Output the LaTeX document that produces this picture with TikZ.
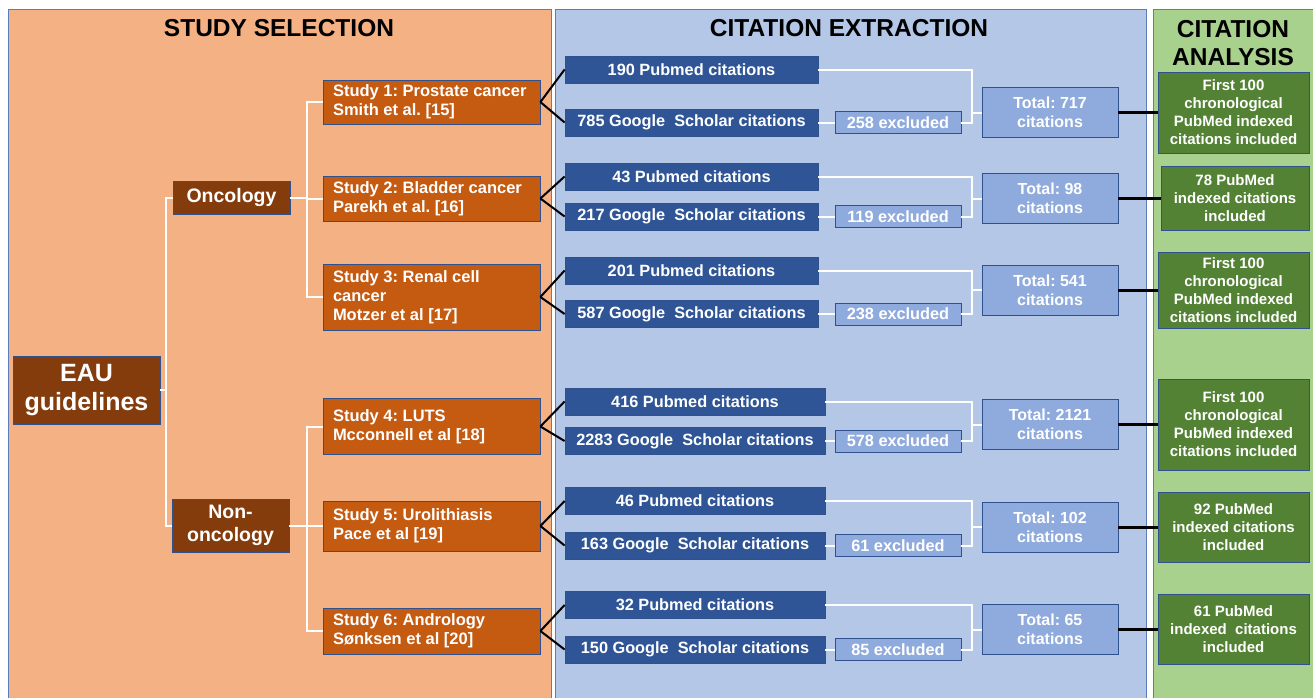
\documentclass[tikz,border=0pt]{standalone}
\usepackage{fontspec}
\setmainfont{Liberation Sans}
\usetikzlibrary{positioning}
\definecolor{OrangePanel}{RGB}{244,177,131}
\definecolor{BluePanel}{RGB}{180,199,231}
\definecolor{GreenPanel}{RGB}{169,209,142}
\definecolor{TopicBrown}{RGB}{132,60,12}
\definecolor{StudyOrange}{RGB}{197,90,17}
\definecolor{PubBlue}{RGB}{47,85,151}
\definecolor{PaleBlue}{RGB}{143,170,220}
\definecolor{ResultGreen}{RGB}{84,130,53}
\definecolor{BoxLine}{RGB}{47,82,143}
\definecolor{PanelLine}{RGB}{91,125,190}
\newcommand{\fsize}[2]{\fontsize{#1}{#2}\selectfont\bfseries\frenchspacing}
\newcommand{\joinrow}[1]{%
  \coordinate (j#1) at ([xshift=-10]tot#1.west);
  \draw[stem] (s#1.east)--(pm#1.west);
  \draw[stem] (s#1.east)--(gs#1.west);
  \draw[twig] (gs#1.east)--(ex#1.west);
  \draw[twig] (pm#1.east) -| (j#1) |- (ex#1.east);
  \draw[twig] (j#1)--(tot#1.west);
  \draw[link] (tot#1.east)--(gr#1.west);}
\tikzset{
  head/.style={inner sep=0pt,align=center,font=\fsize{24.5}{28}},
  box/.style={draw=BoxLine,line width=0.8pt,text=white,inner sep=0pt,align=center},
  topic/.style={box,fill=TopicBrown,minimum width=117,font=\fsize{19.5}{23}},
  study/.style={box,fill=StudyOrange,align=flush left,text width=197pt,inner xsep=10pt,font=\fsize{16.5}{19}},
  pubmed/.style={box,fill=PubBlue,minimum width=253,minimum height=27,font=\fsize{16.3}{19}},
  excl/.style={box,fill=PaleBlue,minimum width=126,minimum height=22,font=\fsize{16.3}{19}},
  total/.style={box,fill=PaleBlue,minimum width=136,minimum height=50,font=\fsize{16}{19}},
  result/.style={box,fill=ResultGreen,minimum width=151,font=\fsize{15}{18}},
  twig/.style={white,line width=2pt},
  stem/.style={black,line width=2pt},
  link/.style={black,line width=3pt}
}
\begin{document}
\begin{tikzpicture}[x=1pt,y=-1pt]
  \useasboundingbox (0,0) rectangle (1313,697);
  \fill[white] (0,0) rectangle (1313,697);
  % panels
  \fill[OrangePanel,draw=PanelLine] (8,9) rectangle (551,702);
  \fill[BluePanel,draw=PanelLine] (555,9) rectangle (1146,702);
  \fill[GreenPanel,draw=PanelLine] (1153,9) rectangle (1318,702);
  \node[head] (selhead) at (279,28) {STUDY SELECTION};
  \node[head] (exthead) at (849,28) {CITATION EXTRACTION};
  \node[head] (anahead) at (1233,43) {CITATION\\ANALYSIS};

  % study selection
  \node[topic,minimum width=147,minimum height=68,font=\fsize{25}{29}] (eau) at (86.5,390) {EAU\\guidelines};
  \node[topic,minimum height=33] (onc) at (231.5,197.5) {Oncology};
  \node[topic,minimum height=53] (nononc) at (230.5,525.5) {Non-\\oncology};
  \node[study,minimum height=44] (s1) at (431.5,102) {Study 1: Prostate cancer\\Smith et al. [15]};
  \node[study,minimum height=45] (s2) at (431.5,198.5) {Study 2: Bladder cancer\\Parekh et al. [16]};
  \node[study,minimum height=66] (s3) at (431.5,297) {Study 3: Renal cell\\cancer\\Motzer et al [17]};
  \node[study,minimum height=56] (s4) at (431.5,426.5) {Study 4: LUTS\\Mcconnell et al [18]};
  \node[study,minimum height=50] (s5) at (431.5,526) {Study 5: Urolithiasis\\Pace et al [19]};
  \node[study,minimum height=46] (s6) at (431.5,631) {Study 6: Andrology\\Sønksen et al [20]};
  \draw[twig] (eau.east) -- ++(6,0) |- (onc.west);
  \draw[twig] (eau.east) -- ++(6,0) |- (nononc.west);
  \foreach \s in {s1,s2,s3} \draw[twig] (onc.east) -- ++(17,0) |- (\s.west);
  \foreach \s in {s4,s5,s6} \draw[twig] (nononc.east) -- ++(18,0) |- (\s.west);

  % citation extraction
  \node[pubmed] (pm1) at (691.5,69.5) {190 Pubmed citations};
  \node[pubmed] (gs1) at (691.5,122.5) {785 Google~ Scholar citations};
  \node[excl] (ex1) at (898,122.5) {258 excluded};
  \node[total] (tot1) at (1050,112.5) {Total: 717\\citations};
  \node[pubmed] (pm2) at (691.5,176.5) {43 Pubmed citations};
  \node[pubmed] (gs2) at (691.5,216.5) {217 Google~ Scholar citations};
  \node[excl] (ex2) at (898,216.5) {119 excluded};
  \node[total] (tot2) at (1050,198.5) {Total: 98\\citations};
  \node[pubmed] (pm3) at (691.5,270.5) {201 Pubmed citations};
  \node[pubmed] (gs3) at (691.5,314) {587 Google~ Scholar citations};
  \node[excl] (ex3) at (898,314) {238 excluded};
  \node[total] (tot3) at (1050,290) {Total: 541\\citations};
  \node[pubmed,minimum width=260] (pm4) at (695,401.5) {416 Pubmed citations};
  \node[pubmed,minimum width=260] (gs4) at (695,441) {2283 Google~ Scholar citations};
  \node[excl] (ex4) at (898,441) {578 excluded};
  \node[total] (tot4) at (1050,424.5) {Total: 2121\\citations};
  \node[pubmed,minimum width=260] (pm5) at (695,501) {46 Pubmed citations};
  \node[pubmed,minimum width=260] (gs5) at (695,545.5) {163 Google~ Scholar citations};
  \node[excl] (ex5) at (898,545.5) {61 excluded};
  \node[total] (tot5) at (1050,527) {Total: 102\\citations};
  \node[pubmed,minimum width=260] (pm6) at (695,605) {32 Pubmed citations};
  \node[pubmed,minimum width=260] (gs6) at (695,649.5) {150 Google~ Scholar citations};
  \node[excl] (ex6) at (898,649.5) {85 excluded};
  \node[total] (tot6) at (1050,629.5) {Total: 65\\citations};

  % citation analysis
  \node[result,minimum height=81] (gr1) at (1233.5,112.5) {First 100\\chronological\\PubMed indexed\\citations included};
  \node[result,minimum width=148,minimum height=64] (gr2) at (1235,198.5) {78 PubMed\\indexed citations\\included};
  \node[result,minimum height=76] (gr3) at (1233.5,290) {First 100\\chronological\\PubMed indexed\\citations included};
  \node[result,minimum height=91] (gr4) at (1233.5,424.5) {First 100\\chronological\\PubMed indexed\\citations included};
  \node[result,minimum height=70] (gr5) at (1233.5,527) {92 PubMed\\indexed citations\\included};
  \node[result,minimum height=70] (gr6) at (1233.5,629.5) {61 PubMed\\indexed~ citations\\included};

  \foreach \i in {1,...,6} {\joinrow{\i}}
\end{tikzpicture}
\end{document}
